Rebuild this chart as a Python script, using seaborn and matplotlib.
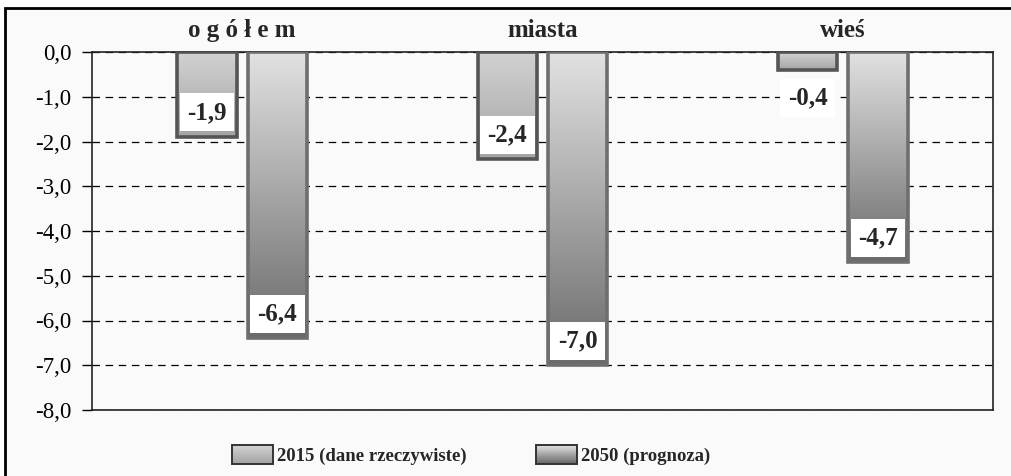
import matplotlib
matplotlib.use("Agg")
import numpy as np
import pandas as pd
import matplotlib.pyplot as plt
import seaborn as sns
from matplotlib.patches import Rectangle, Patch
from matplotlib.colors import LinearSegmentedColormap
from matplotlib.legend_handler import HandlerBase
from matplotlib.ticker import FuncFormatter

# ── Data ──────────────────────────────────────────────────────────────────────
categories = ["o g ó ł e m", "miasta", "wieś"]
years = ["2015 (dane rzeczywiste)", "2050 (prognoza)"]
values_2015 = [-1.9, -2.4, -0.4]
values_2050 = [-6.4, -7.0, -4.7]
y_ticks = [0, -1, -2, -3, -4, -5, -6, -7, -8]

df = pd.DataFrame({
    "kategoria": categories * 2,
    "wartosc": values_2015 + values_2050,
    "rok": [years[0]] * 3 + [years[1]] * 3,
})

# gradient colours (top -> bottom) and edge colour for each series
grad = {years[0]: ("#d2d2d2", "#a4a4a4", "#555555"),
        years[1]: ("#e2e2e2", "#6a6a6a", "#6e6e6e")}

SERIF = ["Liberation Serif", "DejaVu Serif"]
BG = "#fafafa"

sns.set_style("white")
plt.rcParams["font.family"] = SERIF

fig = plt.figure(figsize=(10.11, 4.76), dpi=100, facecolor="white")
# outer frame (only top and left edges visible in the original)
fig.patches.append(Rectangle((5 / 1011, -0.1), 1.2, 1.1 - 8 / 476,
                             transform=fig.transFigure, facecolor=BG,
                             edgecolor="black", lw=2, zorder=-5))
ax = fig.add_axes([92 / 1011, 1 - 410 / 476, 901 / 1011, 358 / 476])
ax.set_facecolor(BG)

sns.barplot(data=df, x="kategoria", y="wartosc", hue="rok", order=categories,
            hue_order=years, width=0.47, gap=0.16, legend=False,
            palette=["#bbbbbb", "#999999"], ax=ax)

# ── gradient fill on every bar ───────────────────────────────────────────────
for container, year in zip(ax.containers, years):
    top, bottom, edge = grad[year]
    cmap = LinearSegmentedColormap.from_list(year, [top, bottom])
    for patch in container:
        x0, w = patch.get_x(), patch.get_width()
        y0, h = patch.get_y(), patch.get_height()
        patch.set_facecolor("none")
        patch.set_edgecolor(edge)
        patch.set_linewidth(2.6)
        patch.set_zorder(3)
        img = ax.imshow(np.linspace(0, 1, 256).reshape(-1, 1), cmap=cmap,
                        aspect="auto", interpolation="bilinear",
                        extent=[x0, x0 + w, min(y0, y0 + h), max(y0, y0 + h)],
                        zorder=2)
        img.set_clip_path(patch)

    # value labels: inside the bar end, outside for very short bars
    vals = [p.get_height() for p in container]
    anns = ax.bar_label(container, labels=[f"{v:.1f}".replace(".", ",") for v in vals],
                        label_type="edge", padding=-26, fontsize=18, fontweight="bold",
                        bbox=dict(boxstyle="square,pad=0.3", facecolor="white",
                                  edgecolor="none"), zorder=5)
    for ann, v in zip(anns, vals):
        if v > -1.0:
            ann.xyann = (0, -12)

ax.set_xlim(-0.5, 2.5)
ax.set_ylim(-8, 0)

# ── axes styling ─────────────────────────────────────────────────────────────
ax.set_yticks(y_ticks)
ax.yaxis.set_major_formatter(FuncFormatter(lambda v, _: f"{v:.1f}".replace(".", ",")))
ax.tick_params(axis="y", left=True, length=7, width=1, pad=8, labelsize=16.5,
               color="black", labelcolor="black")
ax.xaxis.tick_top()
ax.tick_params(axis="x", top=False, bottom=False, length=0, pad=7)
for lbl in ax.get_xticklabels():
    lbl.set_fontsize(18)
    lbl.set_fontweight("bold")
ax.set_xlabel("")
ax.set_ylabel("")

ax.set_axisbelow(True)
ax.yaxis.grid(True, color="black", linestyle=(0, (6, 4.5)), linewidth=0.9)
ax.xaxis.grid(False)
for s in ax.spines.values():
    s.set_visible(True)
    s.set_color("#222222")
    s.set_linewidth(1.2)


# ── legend with gradient boxes ───────────────────────────────────────────────
class GradientHandler(HandlerBase):
    def __init__(self, top, bottom, edge):
        super().__init__()
        self.cmap = LinearSegmentedColormap.from_list("lg", [top, bottom])
        self.edge = edge

    def create_artists(self, legend, orig_handle, xdescent, ydescent,
                       width, height, fontsize, trans):
        n = 24
        arts = []
        for i in range(n):
            arts.append(Rectangle((-xdescent, -ydescent + height * (1 - (i + 1) / n)),
                                  width, height / n + 0.2,
                                  facecolor=self.cmap(i / (n - 1)),
                                  edgecolor="none", transform=trans))
        arts.append(Rectangle((-xdescent, -ydescent), width, height,
                              facecolor="none", edgecolor="#333333", lw=1.4,
                              transform=trans))
        return arts


handles = [Patch(label=y) for y in years]
hmap = {h: GradientHandler(grad[y][0], grad[y][1], grad[y][2]) for h, y in zip(handles, years)}
fig.legend(handles=handles, handler_map=hmap, loc="center",
           bbox_to_anchor=(471 / 1011, 1 - 455 / 476), ncol=2, frameon=False,
           prop=dict(family=SERIF, weight="bold", size=13.5),
           handlelength=2.2, handleheight=1.15, handletextpad=0.2,
           columnspacing=3.7)

fig.savefig("out.png", dpi=100, facecolor="white")
